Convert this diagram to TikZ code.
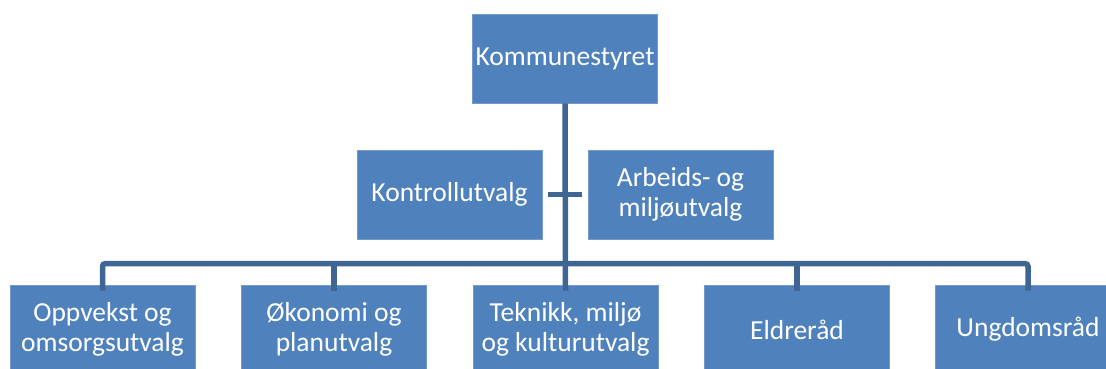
\documentclass[tikz,border=0pt]{standalone}
\usepackage{fontspec}
\setmainfont{Carlito}
\definecolor{boxblue}{HTML}{4F81BD}
\definecolor{lineblue}{HTML}{3F6595}
\begin{document}
\begin{tikzpicture}[x=1pt,y=-1pt,
  orgbox/.style={fill=boxblue, draw=boxblue!80!white, line width=0.8pt, text=white,
    minimum width=185pt, minimum height=89pt, inner sep=0pt, align=center,
    font=\fontsize{27.5}{30}\selectfont},
  conn/.style={draw=lineblue, line width=5.5pt}]
\useasboundingbox (0,0) rectangle (1106,369);
\begin{scope}
\clip (0,0) rectangle (1106,369);
\node[orgbox] (top) at (565,58.5) {Kommunestyret};
\node[orgbox] (kon) at (449.5,194.5) {Kontrollutvalg};
\node[orgbox] (arb) at (680.5,194.5) {Arbeids- og\\miljøutvalg};
\node[orgbox] (b1) at (102.5,329.5) {Oppvekst og\\omsorgsutvalg};
\node[orgbox] (b2) at (334,329.5) {Økonomi og\\planutvalg};
\node[orgbox] (b3) at (565.5,329.5) {Teknikk, miljø\\og kulturutvalg};
\node[orgbox] (b4) at (797,329.5) {Eldreråd};
\node[orgbox] (b5) at (1028,329.5) {Ungdomsråd};
\coordinate (busl) at (102.5,263.5);
\coordinate (busr) at (1028,263.5);
\draw[conn] (top.south) -- ([yshift=-6pt]b3.north);
\draw[conn] ([xshift=6pt]kon.east) -- ([xshift=-6pt]arb.west);
\draw[conn, rounded corners=3pt] ([yshift=-6pt]b1.north) -- (busl) -- (busr) -- ([yshift=-6pt]b5.north);
\draw[conn] ([yshift=-6pt]b2.north) -- (b2.north |- busl);
\draw[conn] ([yshift=-6pt]b4.north) -- (b4.north |- busl);
\end{scope}
\end{tikzpicture}
\end{document}
